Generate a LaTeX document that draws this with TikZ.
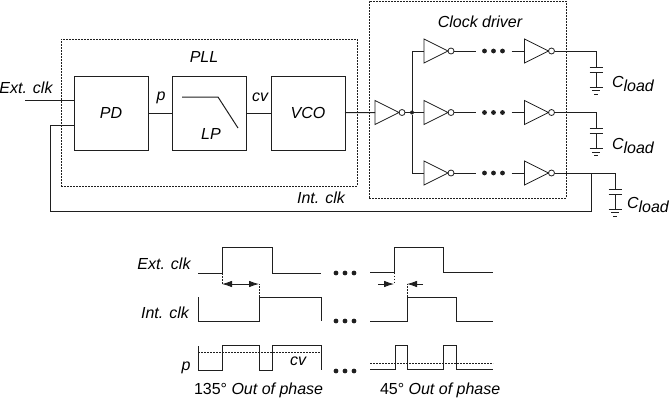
\documentclass[tikz,border=0pt]{standalone}
\usepackage{fontspec}
\setmainfont{Liberation Sans}
\usetikzlibrary{
	shapes.geometric,
	arrows.meta,
	positioning
}
\definecolor{inkline}{gray}{0.12}
\newcommand{\cload}{C\raisebox{-4pt}{load}}
% capacitor with ground symbol, #1 names the top plate, #2 is x, #3 is y of the top plate
\newcommand{\loadcap}[3]{
	\coordinate (#1) at (#2,#3);
	\draw[wire] (#2-6.5,#3) -- (#2+6.5,#3);
	\draw[wire] (#2-6.5,#3+5) -- (#2+6.5,#3+5);
	\draw[wire] (#2,#3+5) -- (#2,#3+20);
	\draw[wire] (#2-6.5,#3+20) -- (#2+6.5,#3+20);
	\draw[wire, thin] (#2-4,#3+23.5) -- (#2+4,#3+23.5);
	\draw[wire, thin] (#2-2,#3+27) -- (#2+2,#3+27);
}

\begin{document}
\begin{tikzpicture}[
				x=1pt, y=-1pt,
				wire/.style={draw=inkline, line width=1pt},
				block/.style={
					rectangle, draw=inkline, line width=1pt,
					minimum size=74pt, inner sep=0pt, outer sep=0pt
				},
				label/.style={
					inner sep=0pt, outer sep=0pt,
					font=\fontsize{16}{18}\selectfont\itshape
				},
				dashbox/.style={
					draw=inkline, line width=0.7pt, dash pattern=on 1.6pt off 1.4pt
				},
				invgate/.style={
					isosceles triangle, isosceles triangle stretches,
					draw=inkline, line width=0.8pt,
					minimum width=24pt, minimum height=24pt,
					inner sep=0pt, outer sep=0pt
				},
				bubble/.style={
					circle, draw=inkline, line width=0.8pt,
					minimum size=6pt, inner sep=0pt, outer sep=0pt
				},
				gapdots/.style={
					inner sep=0pt, outer sep=0pt,
					minimum width=36pt, minimum height=6pt,
					path picture={
						\fill[inkline] ([xshift=-9pt]path picture bounding box.center) circle (2.4pt);
						\fill[inkline] (path picture bounding box.center) circle (2.4pt);
						\fill[inkline] ([xshift=9pt]path picture bounding box.center) circle (2.4pt);
					}
				},
				meas/.style={
					draw=inkline, line width=0.8pt, {Latex[length=10pt,width=6.5pt]}-{Latex[length=10pt,width=6.5pt]}
				},
				measin/.style={
					draw=inkline, line width=0.8pt, -{Latex[length=10pt,width=6.5pt]}
				}
				]
				\useasboundingbox (0,0) rectangle (670,400);
				
				% PLL blocks
				\node[block] (pd) at (111,113) {};
				\node[block, right=24pt of pd] (lp) {};
				\node[block, right=25pt of lp] (vco) {};
				\node[label] (pdtext) at (pd.center) {PD};
				\node[label] (lptext) at (211,134) {LP};
				\node[label] (vcotext) at (vco.center) {VCO};
				\draw[wire] (182,97) -- (218,97) -- (238,128);
				
				% dashed frames
				\node[dashbox, rectangle, minimum width=296pt, minimum height=147pt, inner sep=0pt, outer sep=0pt] (pll) at (209,112.5) {};
				\node[dashbox, rectangle, minimum width=197pt, minimum height=197pt, inner sep=0pt, outer sep=0pt] (driver) at (467.5,99.5) {};
				\node[label] (plltext) at (204,57) {PLL};
				\node[label] (drivertext) at (480,22) {Clock driver};
				
				% first inverter and its junction
				\node[invgate, anchor=lower side] (invin) at (375,112.5) {};
				\node[bubble, right=0pt of invin.apex] (bubblein) {};
				\node[circle, fill=inkline, minimum size=4pt, inner sep=0pt, outer sep=0pt] (junc) at (412,112.5) {};
				
				% the three inverter rows
				\foreach \row/\ypos in {1/51,2/112.5,3/173}{
					\node[invgate, anchor=lower side] (inva\row) at (424,\ypos) {};
					\node[bubble, right=0pt of inva\row.apex] (bubblea\row) {};
					\node[gapdots, right=21.5pt of bubblea\row] (dots\row) {};
					\node[invgate, right=13pt of dots\row.east, anchor=lower side] (invb\row) {};
					\node[bubble, right=0pt of invb\row.apex] (bubbleb\row) {};
					\draw[wire] (junc) |- (inva\row.lower side);
					\draw[wire] (bubblea\row) -- (dots\row);
					\draw[wire] (dots\row) -- (invb\row.lower side);
				}
				
				% load capacitors
				\loadcap{capa}{596}{67}
				\loadcap{capb}{596}{128.5}
				\loadcap{capc}{615}{189}
				\node[label, anchor=west] (loada) at (612,84) {\cload};
				\node[label, anchor=west] (loadb) at (612,146) {\cload};
				\node[label, anchor=west] (loadc) at (627,205) {\cload};
				\draw[wire] (bubbleb1) -| (capa);
				\draw[wire] (bubbleb2) -| (capb);
				\draw[wire] (bubbleb3) -| (capc);
				
				% signal path
				\coordinate (extin) at (25,100);
				\coordinate (fbin) at (74,125);
				\coordinate (fbleft) at (50,211);
				\coordinate (fbright) at (591,173);
				\draw[wire] (extin) -- (extin -| pd.west);
				\draw[wire] (pd) -- (lp);
				\draw[wire] (lp) -- (vco);
				\draw[wire] (vco) -- (invin.lower side);
				\draw[wire] (bubblein) -- (junc);
				\draw[wire] (fbin) -| (fbleft) -| (fbright);
				\node[label] (exttext) at (26,88) {Ext. clk};
				\node[label] (ptext) at (161,98) {p};
				\node[label] (cvtext) at (260,97) {cv};
				\node[label] (inttext) at (321,198) {Int. clk};
				
				% timing, 135 degrees
				\node[label] (wavee) at (164,264) {Ext. clk};
				\node[label] (wavei) at (165,313) {Int. clk};
				\node[label] (wavep) at (186,368) {p};
				\node[label] (wavecv) at (298,361) {cv};
				\draw[wire] (198,273) -- (222,273) -- (222,247) -- (272,247) -- (272,273) -- (321,273);
				\draw[wire] (198,297) -- (198,321) -- (259,321) -- (259,297) -- (321,297) -- (321,321);
				\draw[wire] (198,346) -- (198,370) -- (222,370) -- (222,345) -- (259,345) -- (259,370) -- (272,370) -- (272,345) -- (321,345) -- (321,370);
				\draw[dashbox] (198,352) -- (321,352);
				\coordinate (slowa) at (222,284);
				\coordinate (slowb) at (259,284);
				\draw[dashbox] (222,273) -- (slowa);
				\draw[dashbox] (259,297) -- (slowb);
				\draw[meas] (slowa) -- (slowb);
				
				% timing, 45 degrees
				\draw[wire] (370,272.5) -- (394,272.5) -- (394,247) -- (443,247) -- (443,272.5) -- (493,272.5);
				\draw[wire] (370,321) -- (407,321) -- (407,297) -- (456,297) -- (456,321) -- (493,321);
				\draw[wire] (370,369) -- (395,369) -- (395,345) -- (407,345) -- (407,369) -- (443,369) -- (443,345) -- (456,345) -- (456,369) -- (493,369);
				\draw[dashbox] (370,363) -- (493,363);
				\coordinate (fasta) at (394,284);
				\coordinate (fastb) at (407,284);
				\coordinate (fastl) at (378,284);
				\coordinate (fastr) at (423,284);
				\draw[dashbox] (394,272.5) -- (fasta);
				\draw[dashbox] (407,297) -- (fastb);
				\draw[measin] (fastl) -- (fasta);
				\draw[measin] (fastr) -- (fastb);
				
				% gaps between the two cases
				\node[gapdots] (gape) at (345,273) {};
				\node[gapdots] (gapi) at (345,321) {};
				\node[gapdots] (gapp) at (345,371) {};
				
				\node[label, anchor=west] (phasea) at (194,390) {{\upshape 135°} Out of phase};
				\node[label, anchor=west] (phaseb) at (380,390) {{\upshape 45°} Out of phase};
			\end{tikzpicture}
\end{document}
